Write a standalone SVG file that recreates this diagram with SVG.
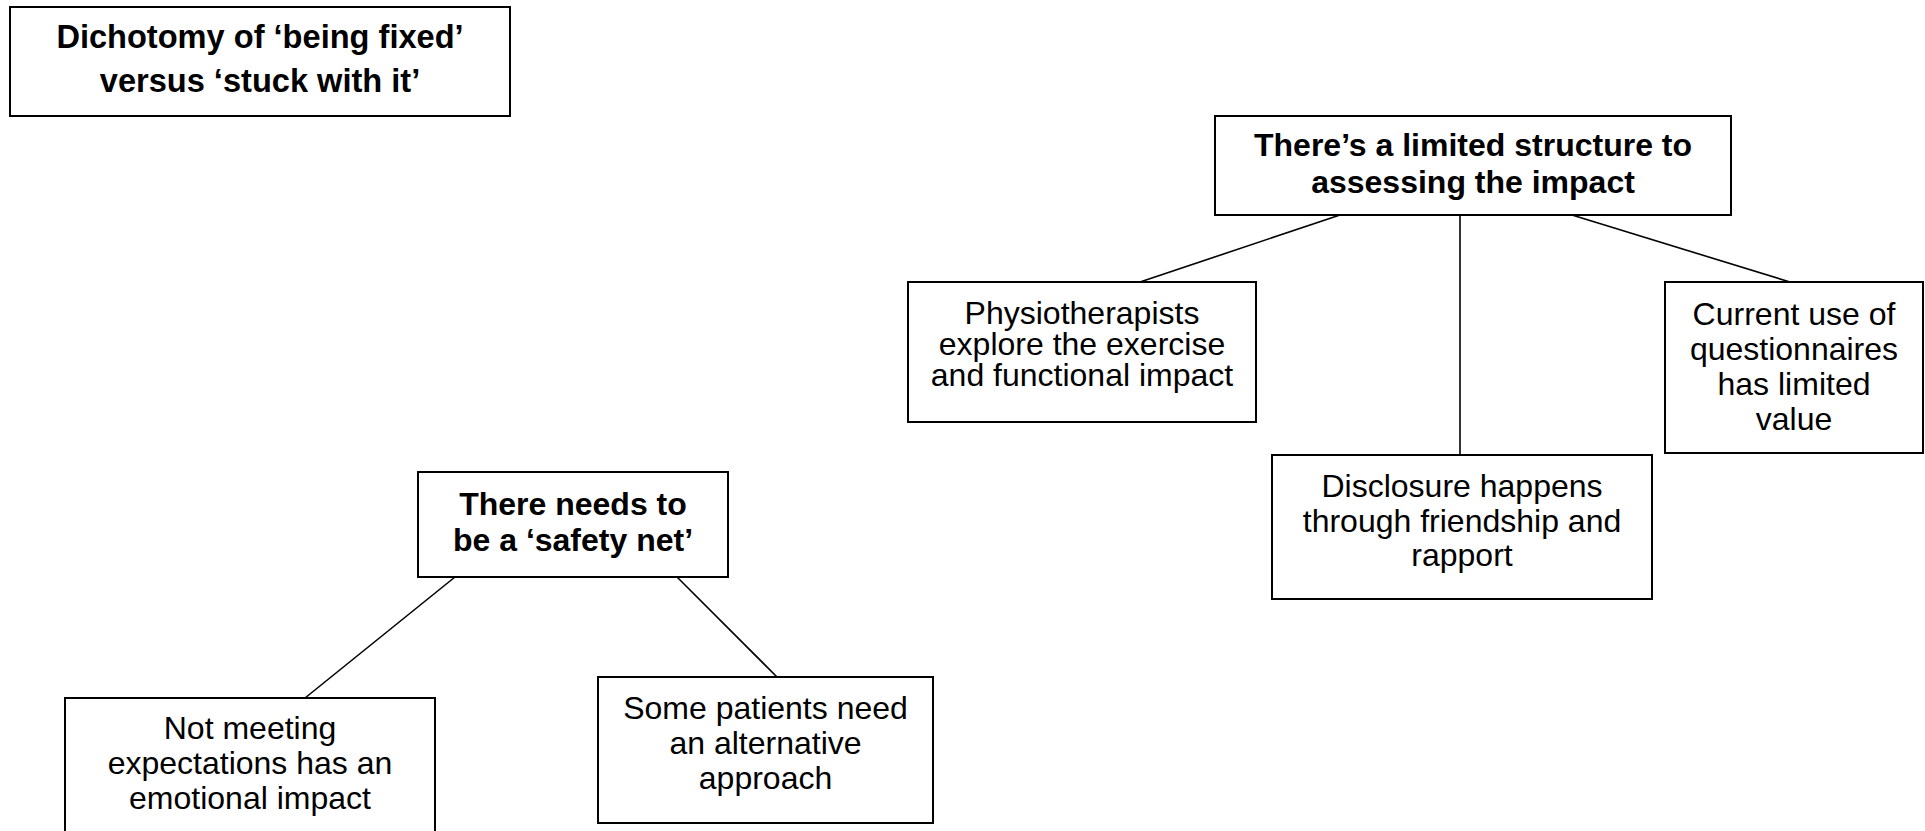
<svg xmlns="http://www.w3.org/2000/svg" width="1925" height="831" viewBox="0 0 1925 831">
  <style>
    .box { fill: #ffffff; stroke: #000000; stroke-width: 2; }
    .link { stroke: #000000; stroke-width: 1.6; fill: none; }
    .t { font-family: "Liberation Sans", Arial, sans-serif; font-size: 32px; fill: #000000; text-anchor: middle; }
    .b { font-weight: bold; }
    .lg { font-size: 32.6px; }
  </style>
  <rect width="1925" height="831" fill="#ffffff"/>

  <!-- tree connectors -->
  <g id="connectors">
    <line class="link" x1="1340" y1="215" x2="1140" y2="282"/>
    <line class="link" x1="1460" y1="215" x2="1460" y2="455"/>
    <line class="link" x1="1572" y1="215" x2="1790" y2="282"/>
    <line class="link" x1="455" y1="577" x2="305" y2="698"/>
    <line class="link" x1="677" y1="577" x2="777" y2="677"/>
  </g>

  <g id="dichotomy">
    <rect class="box" x="10" y="7" width="500" height="109"/>
    <text class="t b lg" x="260" y="48">Dichotomy of ‘being fixed’</text>
    <text class="t b lg" x="260" y="92">versus ‘stuck with it’</text>
  </g>

  <g id="limited-structure">
    <rect class="box" x="1215" y="116" width="516" height="99"/>
    <text class="t b" x="1473" y="156">There’s a limited structure to</text>
    <text class="t b" x="1473" y="193">assessing the impact</text>
  </g>

  <g id="physiotherapists">
    <rect class="box" x="908" y="282" width="348" height="140"/>
    <text class="t" x="1082" y="324">Physiotherapists</text>
    <text class="t" x="1082" y="355">explore the exercise</text>
    <text class="t" x="1082" y="386">and functional impact</text>
  </g>

  <g id="questionnaires">
    <rect class="box" x="1665" y="282" width="258" height="171"/>
    <text class="t" x="1794" y="325">Current use of</text>
    <text class="t" x="1794" y="360">questionnaires</text>
    <text class="t" x="1794" y="395">has limited</text>
    <text class="t" x="1794" y="430">value</text>
  </g>

  <g id="disclosure">
    <rect class="box" x="1272" y="455" width="380" height="144"/>
    <text class="t" x="1462" y="497">Disclosure happens</text>
    <text class="t" x="1462" y="532">through friendship and</text>
    <text class="t" x="1462" y="566">rapport</text>
  </g>

  <g id="safety-net">
    <rect class="box" x="418" y="472" width="310" height="105"/>
    <text class="t b" x="573" y="515">There needs to</text>
    <text class="t b" x="573" y="551">be a ‘safety net’</text>
  </g>

  <g id="expectations">
    <rect class="box" x="65" y="698" width="370" height="150"/>
    <text class="t" x="250" y="739">Not meeting</text>
    <text class="t" x="250" y="774">expectations has an</text>
    <text class="t" x="250" y="809">emotional impact</text>
  </g>

  <g id="alternative">
    <rect class="box" x="598" y="677" width="335" height="146"/>
    <text class="t" x="765.5" y="719">Some patients need</text>
    <text class="t" x="765.5" y="754">an alternative</text>
    <text class="t" x="765.5" y="789">approach</text>
  </g>
</svg>
